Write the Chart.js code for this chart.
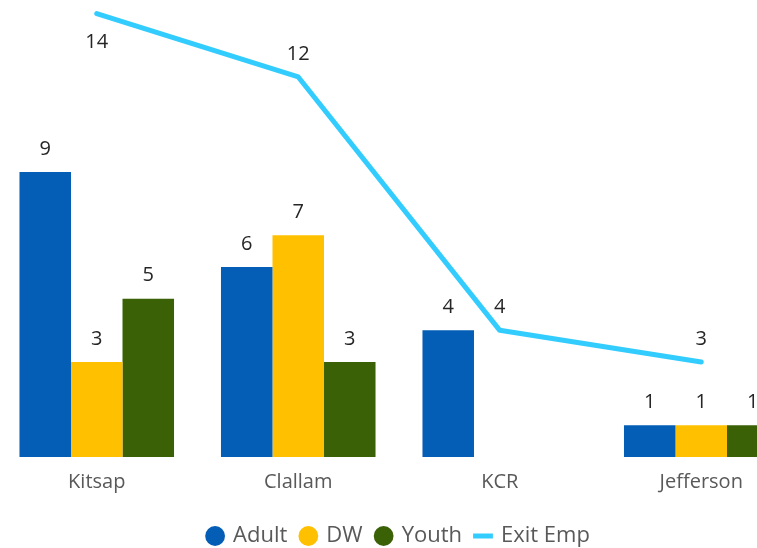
<!DOCTYPE html>
<html>
<head>
<meta charset="utf-8">
<script src="https://cdn.jsdelivr.net/npm/chart.js@4/dist/chart.umd.min.js"></script>
<style>
  html, body { margin: 0; padding: 0; background: #fff; }
  #wrap { position: relative; width: 757px; height: 548px; overflow: hidden; }
  #chart { position: absolute; left: -4px; top: 0; }
</style>
</head>
<body>
<div id="wrap"><canvas id="chart" width="806" height="548"></canvas></div>
<script>
const categories = ['Kitsap', 'Clallam', 'KCR', 'Jefferson'];
const adult = [9, 6, 4, 1];
const dw = [3, 7, null, 1];
const youth = [5, 3, null, 1];
const exitEmp = [14, 12, 4, 3];

const FONT = "'Open Sans', 'DejaVu Sans', sans-serif";

// value labels above bars and line points
const valueLabels = {
    id: 'valueLabels',
    afterDatasetsDraw(chart) {
        const ctx = chart.ctx;
        ctx.save();
        ctx.font = '20px ' + FONT;
        ctx.fillStyle = '#262626';
        ctx.textAlign = 'center';
        ctx.textBaseline = 'middle';
        chart.data.datasets.forEach((ds, i) => {
            const meta = chart.getDatasetMeta(i);
            meta.data.forEach((el, j) => {
                const v = ds.data[j];
                if (v === null || v === undefined) return;
                let y = el.y - 23;
                if (ds.type === 'line' && y < 12) y = el.y + 29;
                ctx.fillText(String(v), el.x, y);
            });
        });
        ctx.restore();
    }
};

new Chart(document.getElementById('chart'), {
    data: {
        labels: categories,
        datasets: [
            { type: 'bar', label: 'Adult', data: adult, backgroundColor: '#055EB5', pointStyle: 'circle' },
            { type: 'bar', label: 'DW', data: dw, backgroundColor: '#FFC000', pointStyle: 'circle' },
            { type: 'bar', label: 'Youth', data: youth, backgroundColor: '#3B6107', pointStyle: 'circle' },
            {
                type: 'line', label: 'Exit Emp', data: exitEmp,
                borderColor: '#33CCFF', backgroundColor: '#33CCFF',
                borderWidth: 5, pointRadius: 0, pointStyle: 'line',
                borderCapStyle: 'round', borderJoinStyle: 'round',
                tension: 0, clip: false
            }
        ]
    },
    options: {
        responsive: false,
        animation: false,
        layout: { padding: { top: 0, bottom: -9, left: 0, right: 0 } },
        datasets: {
            bar: { barPercentage: 1, categoryPercentage: 0.767 }
        },
        scales: {
            x: {
                grid: { display: false },
                border: { display: false },
                ticks: { font: { family: FONT, size: 20 }, color: '#595959', padding: 5 },
                afterFit(scale) { scale.height += 12; }
            },
            y: {
                display: false,
                min: 0,
                max: 14.43
            }
        },
        plugins: {
            legend: {
                position: 'bottom',
                labels: {
                    usePointStyle: true,
                    boxHeight: 14,
                    boxWidth: 14,
                    padding: 14,
                    font: { family: FONT, size: 22 },
                    color: '#595959'
                }
            },
            tooltip: { enabled: false }
        }
    },
    plugins: [valueLabels]
});
</script>
</body>
</html>
